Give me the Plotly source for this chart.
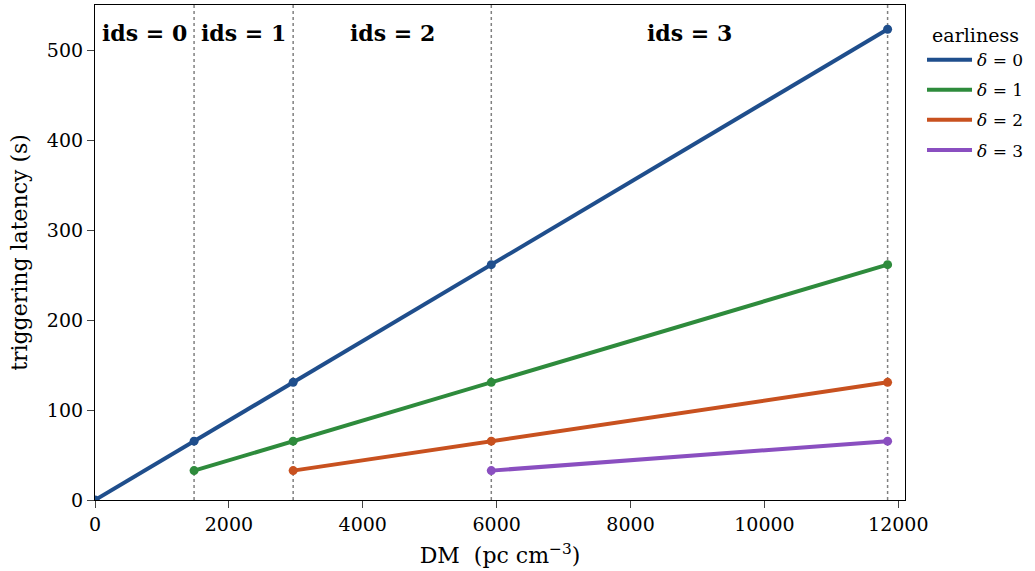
import plotly.graph_objects as go

# Data
dm_boundaries = [1480, 2960, 5920, 11840]
ids_labels = ["ids = 0", "ids = 1", "ids = 2", "ids = 3"]
ids_centers = [740, 2220, 4440, 8880]

series_x = [
    [0, 1480, 2960, 5920, 11840],
    [1480, 2960, 5920, 11840],
    [2960, 5920, 11840],
    [5920, 11840],
]
series_y = [
    [0, 65.5, 131, 262, 524],
    [32.7, 65.5, 131, 262],
    [32.7, 65.5, 131],
    [32.7, 65.5],
]
colors = ["#1f4e8c", "#2e8b3c", "#c8511f", "#8a4fc0"]
x_ticks = [0, 2000, 4000, 6000, 8000, 10000, 12000]
y_ticks = [0, 100, 200, 300, 400, 500]

FONT = "DejaVu Serif"

fig = go.Figure()
for i in range(4):
    fig.add_trace(go.Scatter(
        x=series_x[i], y=series_y[i], mode="lines+markers",
        line=dict(color=colors[i], width=4),
        marker=dict(color=colors[i], size=9),
        showlegend=False, hoverinfo="x+y",
    ))
    fig.add_trace(go.Scatter(
        x=[None], y=[None], mode="lines",
        line=dict(color=colors[i], width=4),
        name="<i>δ</i> = " + str(i), showlegend=True, legendgroup="g" + str(i),
    ))

shapes = []
for b in dm_boundaries:
    shapes.append(dict(type="line", xref="x", yref="paper", x0=b, x1=b, y0=0, y1=1,
                       line=dict(color="#808080", width=1.5, dash="dot"), layer="below"))

annotations = []
for c, t in zip(ids_centers, ids_labels):
    annotations.append(dict(x=c, y=520, xref="x", yref="y", text="<b>" + t + "</b>",
                            showarrow=False, font=dict(family=FONT, size=22, color="black")))

fig.update_layout(
    width=1035, height=571,
    margin=dict(l=95, r=130, t=5, b=71, autoexpand=False),
    paper_bgcolor="white", plot_bgcolor="white",
    font=dict(family=FONT, size=19, color="black"),
    shapes=shapes, annotations=annotations,
    legend=dict(x=1.021, y=0.975, xanchor="left", yanchor="top",
                title=dict(text="earliness", font=dict(family=FONT, size=19), side="top center"),
                font=dict(family=FONT, size=17), tracegroupgap=5, itemwidth=45),
    xaxis=dict(range=[0, 12100], tickvals=x_ticks, ticktext=[str(v) for v in x_ticks],
               ticks="outside", ticklen=7, tickwidth=1.2, showgrid=False, zeroline=False,
               showline=True, linecolor="black", linewidth=1.2, mirror=True, automargin=False,
               title=dict(text="DM  (pc cm<sup>−3</sup>)", font=dict(size=22), standoff=13)),
    yaxis=dict(range=[0, 551], tickvals=y_ticks, ticktext=[str(v) for v in y_ticks],
               ticks="outside", ticklen=7, tickwidth=1.2, showgrid=False, zeroline=False,
               showline=True, linecolor="black", linewidth=1.2, mirror=True, automargin=False,
               title=dict(text="triggering latency (s)", font=dict(size=22), standoff=13)),
)

fig.write_html("out.html", config={"displayModeBar": False},
               post_script="document.body.style.margin='0';")
